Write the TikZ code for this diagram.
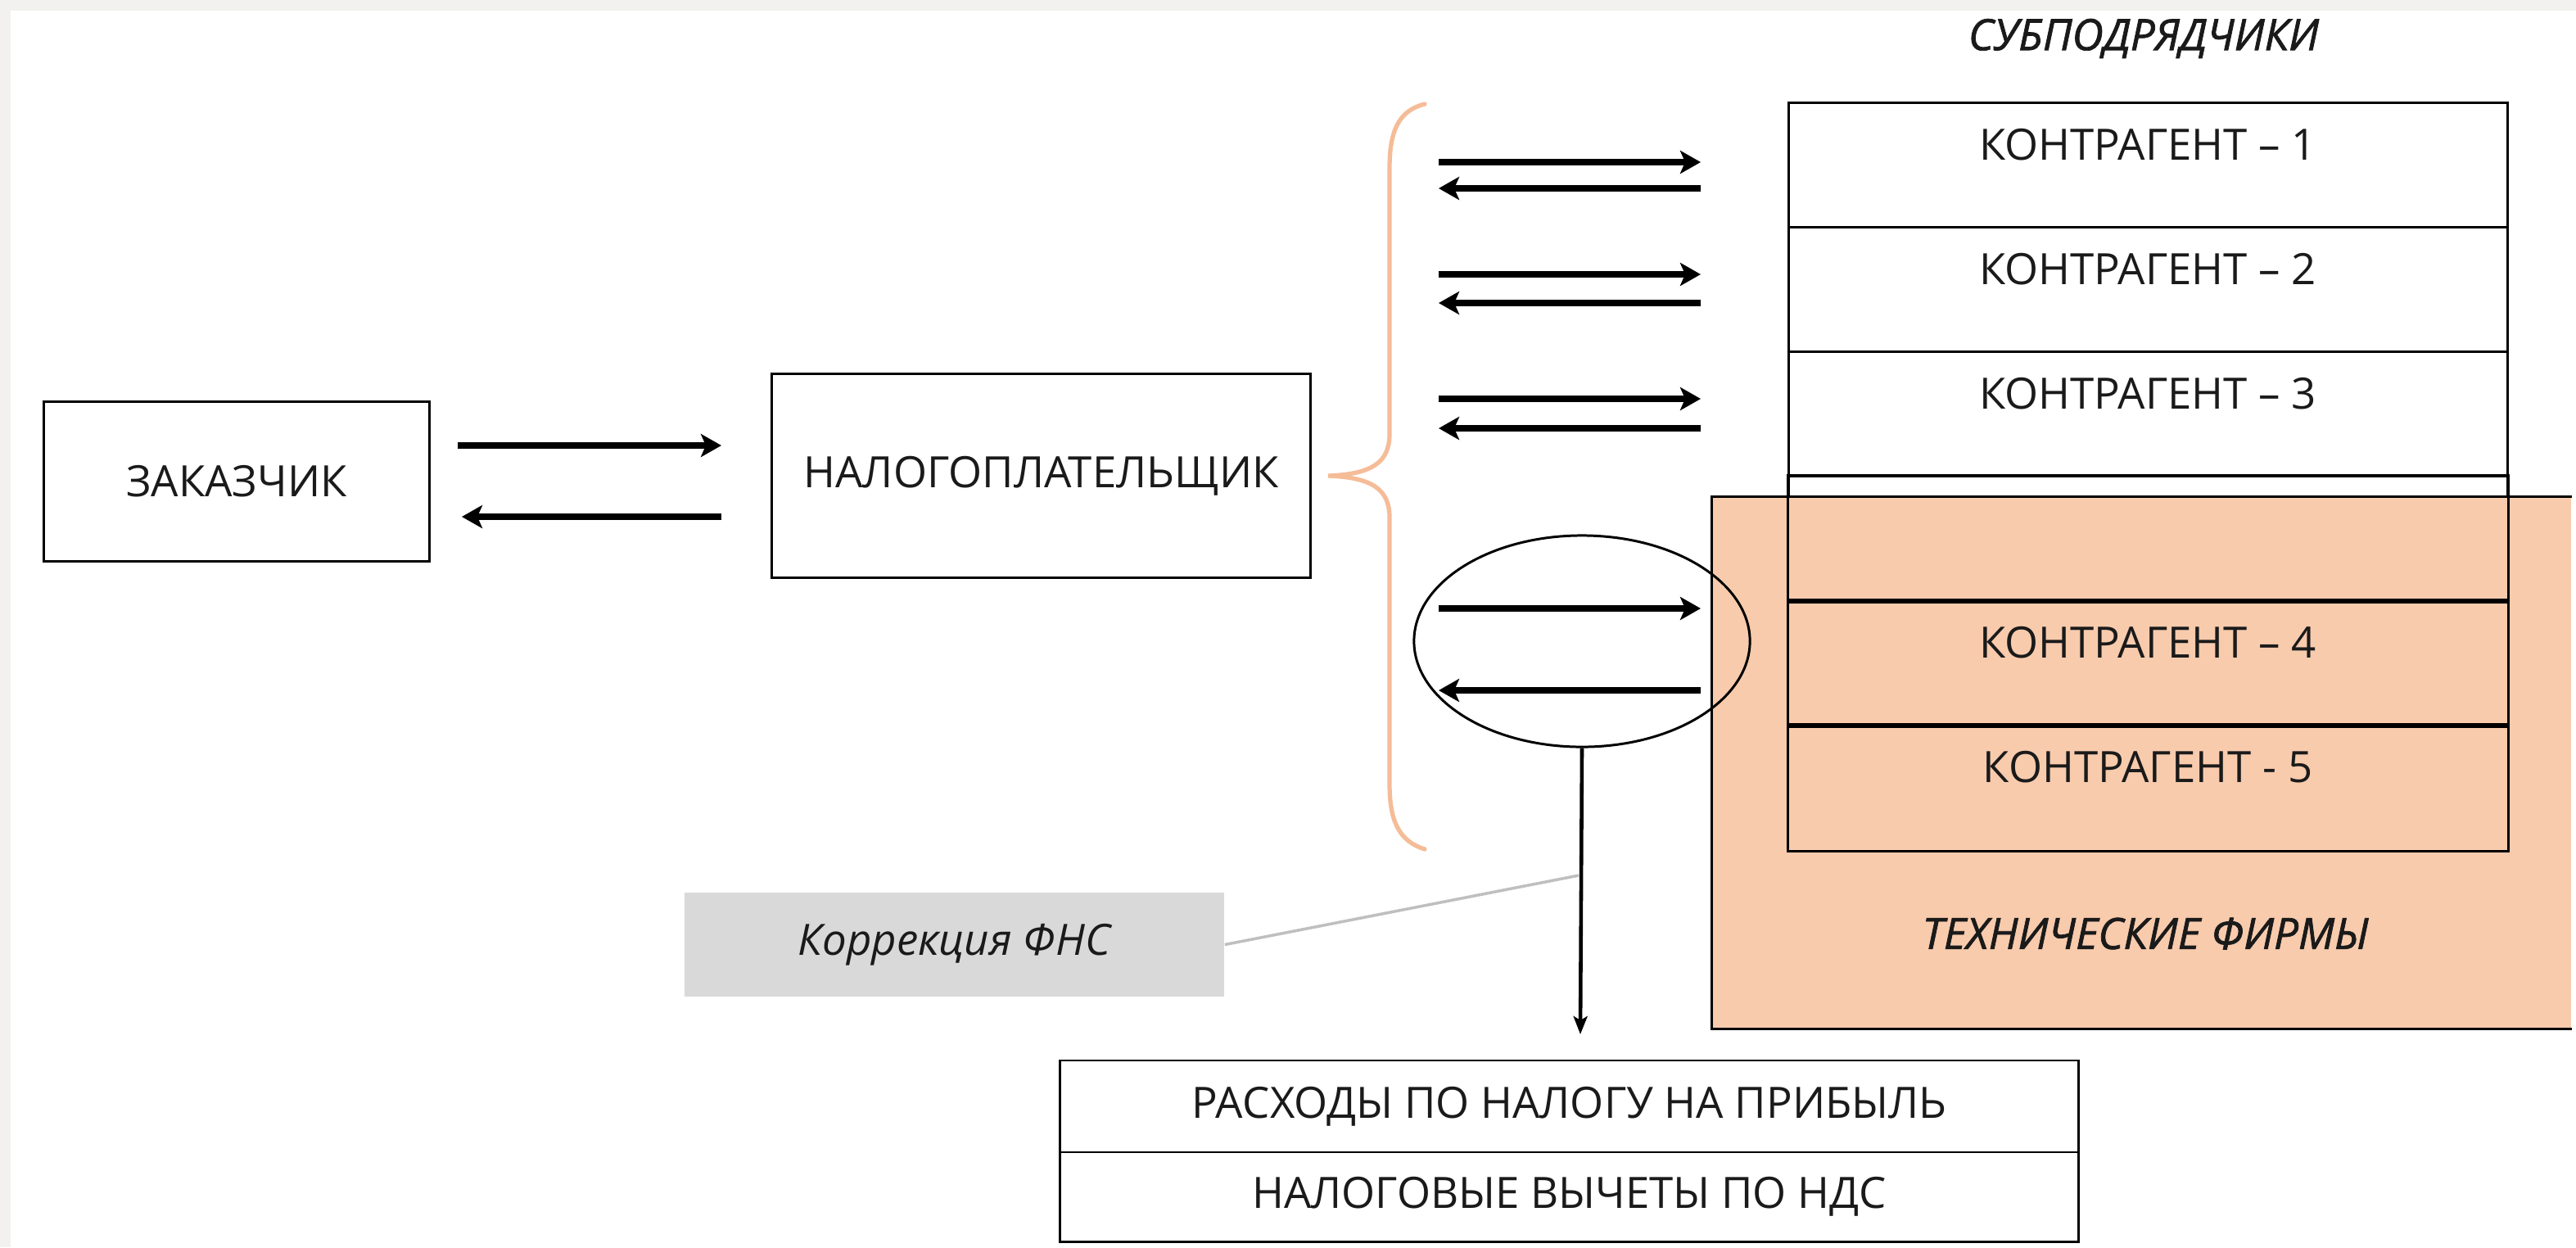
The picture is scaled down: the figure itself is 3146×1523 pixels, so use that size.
\documentclass[tikz,border=0pt]{standalone}
\usepackage{fontspec}
\setmainfont{Open Sans}
\newfontfamily\headfont[FakeBold=1.4]{Open Sans}
\usetikzlibrary{arrows.meta,shapes.geometric,calc}
\definecolor{peach}{HTML}{F8CBAD}
\definecolor{bracec}{HTML}{F5BC98}
\definecolor{korrgray}{HTML}{D9D9D9}
\definecolor{linegray}{HTML}{BFBFBF}
\definecolor{edgegray}{HTML}{F2F1F0}
\definecolor{txt}{HTML}{1A1A1A}
\begin{document}
\begin{tikzpicture}[x=0.01cm,y=-0.01cm,
  font=\fontsize{15pt}{18pt}\selectfont,
  every node/.style={text=txt},
  box/.style={draw=black,line width=0.85pt,fill=white,inner sep=0pt},
  rowbox/.style={draw=black,line width=0.85pt,fill=white,inner sep=0pt,minimum width=8.77cm,minimum height=1.52cm},
  lbl/.style={inner sep=0pt},
  headlbl/.style={inner sep=0pt,font=\headfont\fontsize{15pt}{18pt}\selectfont\itshape},
  flow/.style={line width=2.4pt,-{Stealth[length=0.25cm,width=0.28cm,inset=0.06cm]}},
  thinflow/.style={line width=1.3pt,-{Stealth[length=0.22cm,width=0.17cm,inset=0.05cm]}}]
\useasboundingbox (0,0) rectangle (3146,1523);
\fill[white] (0,0) rectangle (3146,1523);
\fill[edgegray] (0,0) rectangle (3146,13);
\fill[edgegray] (0,0) rectangle (13,1523);

% left boxes
\node[box,minimum width=4.70cm,minimum height=1.94cm] (zak) at (289,588) {ЗАКАЗЧИК};
\node[box,minimum width=6.57cm,minimum height=2.48cm] (nal) at (1271.5,581) {НАЛОГОПЛАТЕЛЬЩИК};

\coordinate (z1s) at (559,544); \coordinate (z1e) at (881,544);
\coordinate (z2s) at (881,631); \coordinate (z2e) at (564,631);
\draw[flow] (z1s) -- (z1e);
\draw[flow] (z2s) -- (z2e);

% counterparty table (white rows)
\node[rowbox] (r1) at (2623.5,202) {};
\node[rowbox] (r2) at (2623.5,354) {};
\node[rowbox] (r3) at (2623.5,506) {};
\node[rowbox] (r4) at (2623.5,658) {};
\node[rowbox] (r5) at (2623.5,810) {};
\node[rowbox] (r6) at (2623.5,962) {};

% technical firms area
\node[fill=peach,inner sep=0pt,minimum width=10.49cm,minimum height=6.49cm] (tech) at (2615.5,931.5) {};
\draw[line width=0.85pt] (tech.north east) -- (tech.north west) -- (tech.south west) -- (tech.south east);
\foreach \r in {r4,r5,r6} {\draw[line width=0.85pt] (\r.north west) rectangle (\r.south east);}

\node[lbl] (t1) at (2623,177) {КОНТРАГЕНТ – 1};
\node[lbl] (t2) at (2623,329) {КОНТРАГЕНТ – 2};
\node[lbl] (t3) at (2623,481) {КОНТРАГЕНТ – 3};
\node[lbl] (t4) at (2623,785) {КОНТРАГЕНТ – 4};
\node[lbl] (t5) at (2623,937) {КОНТРАГЕНТ - 5};

\node[headlbl] (sub) at (2618,47) {СУБПОДРЯДЧИКИ};
\node[headlbl] (techl) at (2620,1140) {ТЕХНИЧЕСКИЕ ФИРМЫ};

% brace
\draw[bracec,line width=1.5pt,line cap=round]
  (1740,127) .. controls (1708,135) and (1697,160) .. (1697,205)
  -- (1697,530) .. controls (1697,565) and (1675,579) .. (1622,581)
  .. controls (1675,583) and (1697,597) .. (1697,632)
  -- (1697,957) .. controls (1697,1002) and (1708,1027) .. (1740,1037);

% arrow pairs to counterparties
\coordinate (p1s) at (1757,198); \coordinate (p1e) at (2077,198);
\coordinate (q1s) at (2077,230); \coordinate (q1e) at (1757,230);
\coordinate (p2s) at (1757,335); \coordinate (p2e) at (2077,335);
\coordinate (q2s) at (2077,370); \coordinate (q2e) at (1757,370);
\coordinate (p3s) at (1757,487); \coordinate (p3e) at (2077,487);
\coordinate (q3s) at (2077,523); \coordinate (q3e) at (1757,523);
\coordinate (p4s) at (1757,743); \coordinate (p4e) at (2077,743);
\coordinate (q4s) at (2077,843); \coordinate (q4e) at (1757,843);
\foreach \i in {1,2,3,4} {
  \draw[flow] (p\i s) -- (p\i e);
  \draw[flow] (q\i s) -- (q\i e);
}

% ellipse
\node[draw=black,line width=0.85pt,ellipse,inner sep=0pt,minimum width=4.10cm,minimum height=2.58cm] (ell) at (1932,783) {};

% bottom table
\node[box,minimum width=12.43cm,minimum height=1.12cm] (b1) at (1916.5,1351) {РАСХОДЫ ПО НАЛОГУ НА ПРИБЫЛЬ};
\node[box,minimum width=12.43cm,minimum height=1.09cm] (b2) at (1916.5,1461.5) {НАЛОГОВЫЕ ВЫЧЕТЫ ПО НДС};

% correction note
\node[fill=korrgray,inner sep=0pt,minimum width=6.59cm,minimum height=1.27cm,font=\fontsize{15pt}{18pt}\selectfont\itshape] (korr) at (1165.5,1153.5) {Коррекция ФНС};

\coordinate (vt) at (1930,1263);
\coordinate (kp) at (1928,1069);
\draw[linegray,line width=1pt] (korr.east) -- (kp);
\draw[thinflow] (ell.south) -- (vt);
\end{tikzpicture}
\end{document}
